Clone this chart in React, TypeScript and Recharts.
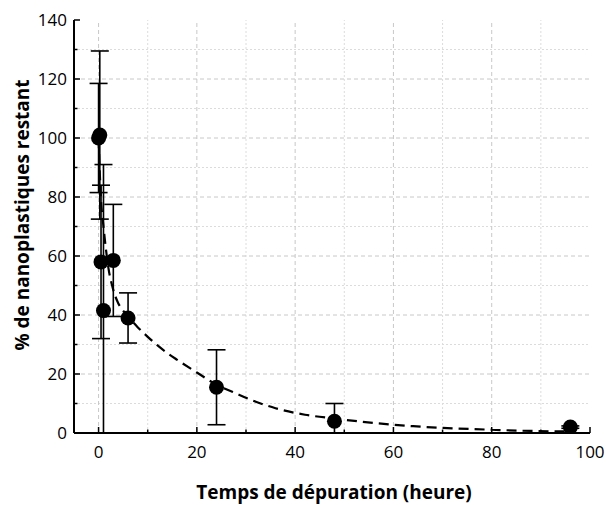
import { ComposedChart, Scatter, Line, XAxis, YAxis, ErrorBar, ReferenceLine } from "recharts";

// mesures (heures, % restant, barres d'erreur visibles [bas, haut])
const hours = [0, 0.25, 0.5, 1, 3, 6, 24, 48, 96];
const remaining = [100, 101, 58, 41.5, 58.5, 39, 15.5, 4, 2];
const errLow = [18.5, 28.5, 26, 41.5, 19, 8.5, 12.7, 4, 0.4];
const errHigh = [18.5, 28.5, 26, 49.5, 19, 8.5, 12.7, 6, 0.4];

// courbe ajustée
const fitHours = [0, 0.25, 0.5, 1, 2, 3, 4, 5, 6, 8, 10, 12, 14, 16, 20, 24, 28, 32, 36, 42, 48, 56, 64, 72, 80, 88, 96];
const fitValues = [100, 88, 79, 70, 56, 48.5, 44, 41.5, 39.5, 35.8, 32.6, 29.7, 27.1, 24.8, 20.5, 16.4, 13.4, 10.6, 8.4, 6.2, 4.9, 3.4, 2.3, 1.6, 1.1, 0.7, 0.5];

const xTicks = [0, 10, 20, 30, 40, 50, 60, 70, 80, 90, 100];
const yTicks = [0, 10, 20, 30, 40, 50, 60, 70, 80, 90, 100, 110, 120, 130, 140];
const xMajorGrid = [0, 20, 40, 60, 80];
const xMinorGrid = [10, 30, 50, 70, 90];
const yMajorGrid = [20, 40, 60, 80, 100, 120];
const yMinorGrid = [10, 30, 50, 70, 90, 110, 130];

const points = hours.map((h, i) => ({ x: h, y: remaining[i], err: [errLow[i], errHigh[i]] }));
const fit = fitHours.map((h, i) => ({ x: h, y: fitValues[i] }));

const FONT = "'Open Sans', sans-serif";

const isMajor = (v: number) => v % 20 === 0;

const BottomTick = ({ x, y, payload }: any) => (
  <g>
    <line x1={x} x2={x} y1={y} y2={y - (isMajor(payload.value) ? 6 : 3.5)} stroke="#000" strokeWidth={1.5} />
    {isMajor(payload.value) && (
      <text x={x} y={y + 25} textAnchor="middle" fontSize={17} fontFamily={FONT} fill="#000">
        {payload.value}
      </text>
    )}
  </g>
);

const TopTick = ({ x, y, payload }: any) => (
  <line x1={x} x2={x} y1={y} y2={y + (isMajor(payload.value) ? 5 : 3)} stroke="#000" strokeWidth={1.5} />
);

const LeftTick = ({ x, y, payload }: any) => (
  <g>
    <line x1={x} x2={x + (isMajor(payload.value) ? 6 : 3.5)} y1={y} y2={y} stroke="#000" strokeWidth={1.5} />
    {isMajor(payload.value) && (
      <text x={x - 7} y={y + 6} textAnchor="end" fontSize={17} fontFamily={FONT} fill="#000">
        {payload.value}
      </text>
    )}
  </g>
);

const RightTick = ({ x, y, payload }: any) => (
  <line x1={x} x2={x - (isMajor(payload.value) ? 5 : 3)} y1={y} y2={y} stroke="#000" strokeWidth={1.5} />
);

const Dot = ({ cx, cy }: any) => <circle cx={cx} cy={cy} r={7.5} fill="#000" />;

export default function App() {
  return (
    <div style={{ position: "absolute", left: 0, top: 0, background: "#fff" }}>
      <ComposedChart width={606} height={505} margin={{ top: 20, right: 16, bottom: 0, left: 0 }}>
        {xMinorGrid.map((v) => (
          <ReferenceLine key={"xm" + v} x={v} stroke="#dcdcdc" strokeDasharray="2 2" />
        ))}
        {yMinorGrid.map((v) => (
          <ReferenceLine key={"ym" + v} y={v} stroke="#dcdcdc" strokeDasharray="2 2" />
        ))}
        {xMajorGrid.map((v) => (
          <ReferenceLine key={"xM" + v} x={v} stroke="#c8c8c8" strokeDasharray="4 3" />
        ))}
        {yMajorGrid.map((v) => (
          <ReferenceLine key={"yM" + v} y={v} stroke="#c8c8c8" strokeDasharray="4 3" />
        ))}
        <XAxis
          dataKey="x"
          type="number"
          domain={[-5, 100]}
          ticks={xTicks}
          interval={0}
          height={72}
          tickSize={0}
          tickMargin={0}
          tickLine={false}
          tick={<BottomTick />}
          axisLine={{ stroke: "#000", strokeWidth: 2 }}
          label={() => (
            <text x={334} y={499} textAnchor="middle" fontSize={19} fontWeight="bold" fontFamily={FONT} fill="#000">
              Temps de dépuration (heure)
            </text>
          )}
        />
        <XAxis
          xAxisId="top"
          orientation="top"
          dataKey="x"
          type="number"
          domain={[-5, 100]}
          ticks={xTicks}
          interval={0}
          height={0}
          tickSize={0}
          tickMargin={0}
          tickLine={false}
          tick={<TopTick />}
          axisLine={{ stroke: "#000", strokeWidth: 2 }}
        />
        <YAxis
          type="number"
          domain={[0, 140]}
          ticks={yTicks}
          interval={0}
          width={74}
          allowDataOverflow
          tickSize={0}
          tickMargin={0}
          tickLine={false}
          tick={<LeftTick />}
          axisLine={{ stroke: "#000", strokeWidth: 2 }}
          label={() => (
            <text
              x={22}
              y={215}
              transform="rotate(-90 22 215)"
              textAnchor="middle"
              dominantBaseline="central"
              fontSize={19}
              fontWeight="bold"
              fontFamily={FONT}
              fill="#000"
            >
              % de nanoplastiques restant
            </text>
          )}
        />
        <YAxis
          yAxisId="right"
          orientation="right"
          type="number"
          domain={[0, 140]}
          ticks={yTicks}
          interval={0}
          width={0}
          tickSize={0}
          tickMargin={0}
          tickLine={false}
          tick={<RightTick />}
          axisLine={{ stroke: "#000", strokeWidth: 2 }}
        />
        <Line
          data={fit}
          dataKey="y"
          type="monotone"
          stroke="#000"
          strokeWidth={2.2}
          strokeDasharray="10 6"
          dot={false}
          activeDot={false}
          isAnimationActive={false}
        />
        <Scatter data={points} dataKey="y" shape={<Dot />} fill="#000" isAnimationActive={false}>
          <ErrorBar dataKey="err" direction="y" width={9} stroke="#000" strokeWidth={1.6} />
        </Scatter>
      </ComposedChart>
    </div>
  );
}
